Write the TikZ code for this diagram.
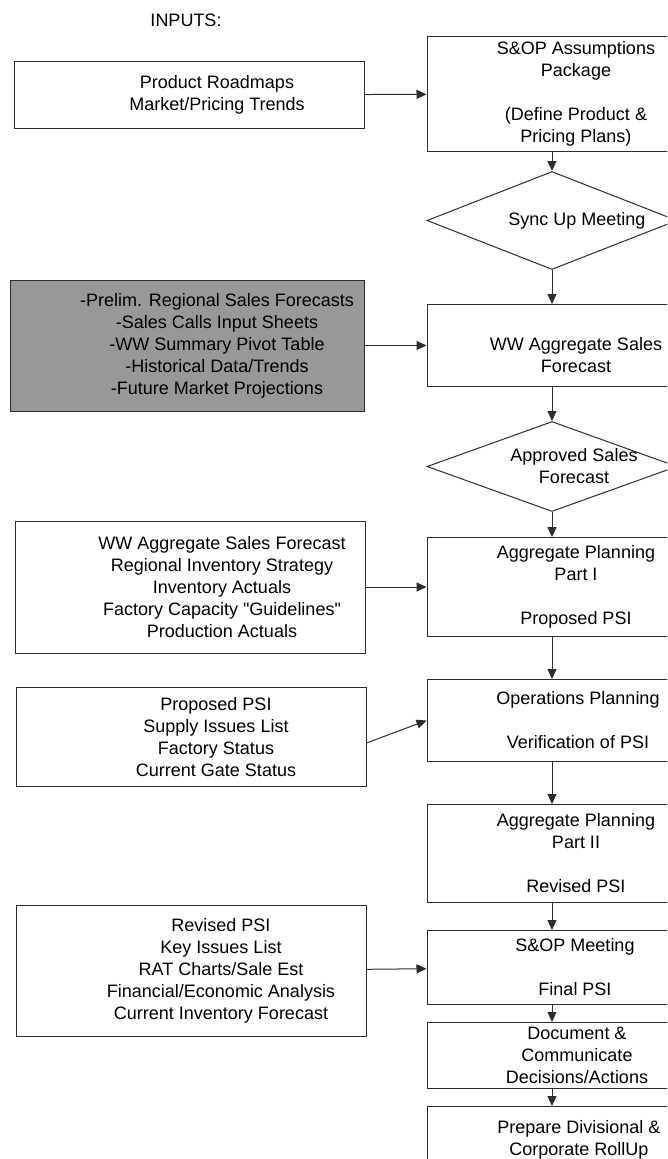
\documentclass[tikz,border=0pt]{standalone}
\usepackage{fontspec}
\setmainfont{Liberation Sans}
\usepackage{tikz}
\usetikzlibrary{shapes.geometric,arrows.meta}
\definecolor{boxline}{RGB}{45,45,45}
\definecolor{inputgray}{RGB}{152,152,152}

\begin{document}
\begin{tikzpicture}[>={Triangle[length=10pt,width=9pt]},
    rbox/.style={draw=boxline, line width=1pt, minimum width=250pt, inner sep=0pt},
    lbox/.style={draw=boxline, line width=1pt, minimum width=350pt, inner sep=0pt},
    dbox/.style={draw=boxline, line width=1pt, diamond, aspect=2.5, minimum width=250pt, inner sep=0pt},
    txt/.style={align=center, inner sep=0pt, font=\fontsize{18}{22}\selectfont},
    link/.style={->, draw=boxline, line width=1pt}]
    \useasboundingbox (0,0) rectangle (667pt,-1159pt);
    \clip (0,0) rectangle (667pt,-1159pt);
    % main flow
    \node[rbox, minimum height=115pt, anchor=north,
        label={[txt,xshift=24pt]center:{S\&OP Assumptions\\Package\\[22pt](Define Product \&\\Pricing Plans)}}]
        (sop) at (552pt,-36pt) {};
    \node[dbox, minimum height=98pt, anchor=north,
        label={[txt,xshift=25pt]center:{Sync Up Meeting}}]
        (sync) at ([yshift=-19pt]sop.south) {};
    \node[rbox, minimum height=82pt, anchor=north,
        label={[txt,xshift=24pt,yshift=-10pt]center:{WW Aggregate Sales\\Forecast}}]
        (ww) at ([yshift=-34pt]sync.south) {};
    \node[dbox, minimum height=90pt, anchor=north,
        label={[txt,xshift=22pt]center:{Approved Sales\\Forecast}}]
        (appr) at ([yshift=-34pt]ww.south) {};
    \node[rbox, minimum height=99pt, anchor=north,
        label={[txt,xshift=24pt]center:{Aggregate Planning\\Part I\\[22pt]Proposed PSI}}]
        (agg1) at ([yshift=-25pt]appr.south) {};
    \node[rbox, minimum height=82pt, anchor=north,
        label={[txt,xshift=26pt]center:{Operations Planning\\[22pt]Verification of PSI}}]
        (ops) at ([yshift=-42pt]agg1.south) {};
    \node[rbox, minimum height=98pt, anchor=north,
        label={[txt,xshift=24pt]center:{Aggregate Planning\\Part II\\[22pt]Revised PSI}}]
        (agg2) at ([yshift=-42pt]ops.south) {};
    \node[rbox, minimum height=74pt, anchor=north,
        label={[txt,xshift=23pt]center:{S\&OP Meeting\\[22pt]Final PSI}}]
        (meet) at ([yshift=-27pt]agg2.south) {};
    \node[rbox, minimum height=66pt, anchor=north,
        label={[txt,xshift=25pt]center:{Document \&\\Communicate\\Decisions/Actions}}]
        (doc) at ([yshift=-17pt]meet.south) {};
    \node[rbox, minimum height=66pt, anchor=north,
        label={[txt,xshift=27pt]center:{Prepare Divisional \&\\Corporate RollUp}}]
        (prep) at ([yshift=-17pt]doc.south) {};
    % inputs
    \node[lbox, minimum height=67pt, anchor=east,
        label={[txt,xshift=28pt]center:{Product Roadmaps\\Market/Pricing Trends}}]
        (inp) at ([xshift=-62pt,yshift=-1pt]sop.west) {};
    \node[txt] (inputs) at ([xshift=-3pt,yshift=41pt]inp.north) {INPUTS:};
    \node[lbox, minimum width=354pt, minimum height=131pt, fill=inputgray, anchor=east,
        label={[txt,xshift=30pt]center:{-Prelim. Regional Sales Forecasts\\-Sales Calls Input Sheets\\-WW Summary Pivot Table\\-Historical Data/Trends\\-Future Market Projections}}]
        (gray) at ([xshift=-62pt]ww.west) {};
    \node[lbox, minimum height=132pt, anchor=east,
        label={[txt,xshift=32pt]center:{WW Aggregate Sales Forecast\\Regional Inventory Strategy\\Inventory Actuals\\Factory Capacity \textquotedbl Guidelines\textquotedbl\\Production Actuals}}]
        (in2) at ([xshift=-61pt]agg1.west) {};
    \node[lbox, minimum height=99pt, anchor=east,
        label={[txt,xshift=25pt]center:{Proposed PSI\\Supply Issues List\\Factory Status\\Current Gate Status}}]
        (in3) at ([xshift=-60pt,yshift=-16.5pt]ops.west) {};
    \node[lbox, minimum height=131pt, anchor=east,
        label={[txt,xshift=30pt]center:{Revised PSI\\Key Issues List\\RAT Charts/Sale Est\\Financial/Economic Analysis\\Current Inventory Forecast}}]
        (in4) at ([xshift=-60pt,yshift=-3.5pt]meet.west) {};
    % connectors
    \draw[link] (inp) -- (sop);
    \draw[link] (gray) -- (ww);
    \draw[link] (in2) -- (agg1);
    \draw[link] ([yshift=-6pt]in3.east) -- (ops.west);
    \draw[link] (in4) -- (meet);
    \draw[link] (sop) -- (sync);
    \draw[link] (sync) -- (ww);
    \draw[link] (ww) -- (appr);
    \draw[link] (appr) -- (agg1);
    \draw[link] (agg1) -- (ops);
    \draw[link] (ops) -- (agg2);
    \draw[link] (agg2) -- (meet);
    \draw[link] (meet) -- (doc);
    \draw[link] (doc) -- (prep);
\end{tikzpicture}
\end{document}
